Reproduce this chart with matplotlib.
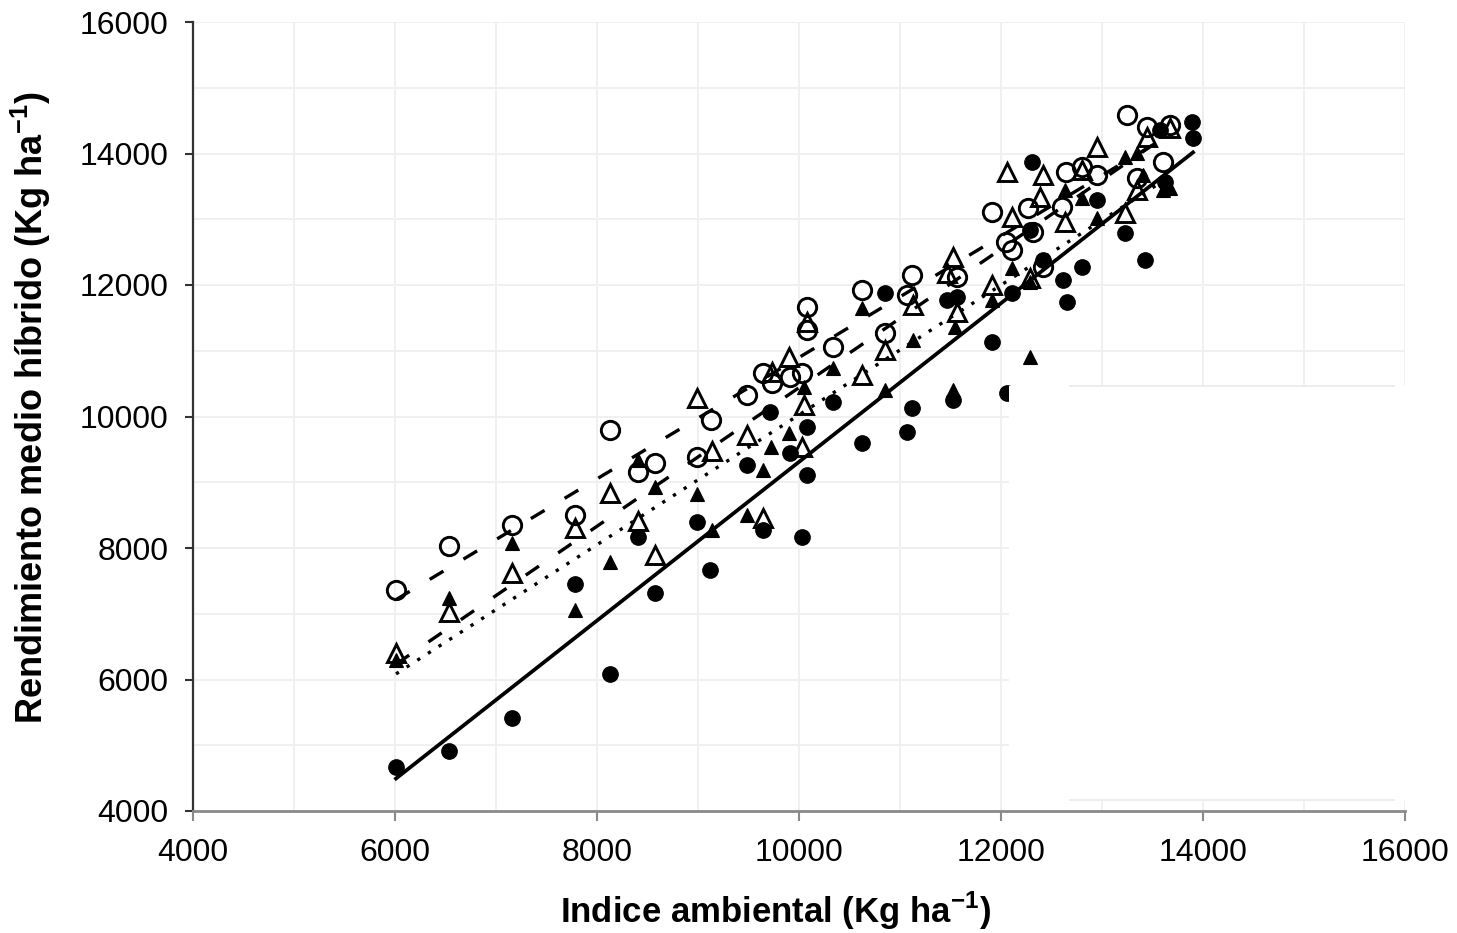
import numpy as np
import matplotlib
matplotlib.use("Agg")
import matplotlib.pyplot as plt
from matplotlib.patches import Rectangle

plt.rcParams['font.family'] = ['Liberation Sans', 'DejaVu Sans']
plt.rcParams['mathtext.fontset'] = 'custom'
plt.rcParams['mathtext.rm'] = 'Liberation Sans'
plt.rcParams['mathtext.bf'] = 'Liberation Sans:bold'

# Environmental index (x) and mean hybrid yield (y), kg/ha, for four hybrids
hyb_a_x = [6010, 6535, 7158, 7782, 8129, 8406, 8574, 8990, 9129, 9485, 9644, 9733,
           9911, 10030, 10079, 10079, 10337, 10624, 10851, 11069, 11119, 11564, 11911,
           12050, 12109, 12267, 12317, 12416, 12604, 12643, 12802, 12950, 13248, 13347,
           13446, 13604, 13673]
hyb_a_y = [7360, 8030, 8350, 8500, 9800, 9160, 9290, 9380, 9950, 10330, 10660, 10510,
           10600, 10660, 11670, 11320, 11060, 11920, 11270, 11850, 12150, 12120, 13110,
           12650, 12530, 13170, 12810, 12270, 13190, 13720, 13800, 13670, 14590, 13630,
           14400, 13870, 14430]

hyb_b_x = [6010, 6535, 7158, 7782, 8129, 8406, 8574, 8990, 9139, 9485, 9644, 9733,
           9901, 10030, 10050, 10079, 10624, 10851, 11129, 11465, 11525, 11564, 11911,
           12059, 12109, 12287, 12386, 12416, 12633, 12802, 12950, 13228, 13347, 13446,
           13673]
hyb_b_y = [6400, 7030, 7620, 8300, 8840, 8410, 7890, 10280, 9480, 9720, 8460, 10680,
           10900, 9540, 10180, 11440, 10630, 11010, 11700, 12180, 12430, 11590, 12000,
           13720, 13040, 12110, 13340, 13670, 12960, 13750, 14100, 13100, 13450, 14250,
           14390]

hyb_c_x = [6010, 6535, 7158, 7782, 8129, 8406, 8574, 8990, 9139, 9485, 9644, 9723,
           9901, 10050, 10337, 10624, 10851, 11129, 11525, 11545, 11911, 12109, 12287,
           12287, 12633, 12802, 12950, 13228, 13347, 13406, 13604, 13673]
hyb_c_y = [6300, 7240, 8080, 7060, 7790, 9340, 8930, 8820, 8270, 8500, 9190, 9540,
           9750, 10450, 10740, 11650, 10400, 11160, 10400, 11360, 11770, 12260, 10900,
           12050, 13450, 13320, 13020, 13950, 14010, 13670, 13450, 13480]

hyb_d_x = [6010, 6535, 7158, 7782, 8129, 8406, 8574, 8990, 9119, 9485, 9644, 9713,
           9911, 10030, 10079, 10079, 10337, 10624, 10851, 11069, 11119, 11465, 11525,
           11564, 11911, 12059, 12109, 12287, 12307, 12416, 12614, 12653, 12802, 12950,
           13228, 13426, 13574, 13624, 13891, 13901]
hyb_d_y = [4670, 4910, 5410, 7450, 6080, 8170, 7320, 8400, 7670, 9260, 8270, 10070,
           9450, 8170, 9840, 9110, 10220, 9600, 11880, 9770, 10130, 11770, 10250,
           11820, 11130, 10360, 11880, 12840, 13870, 12380, 12080, 11740, 12270, 13290,
           12790, 12380, 14360, 13570, 14480, 14240]

axis_ticks = [4000, 6000, 8000, 10000, 12000, 14000, 16000]
x_label = r'Indice ambiental (Kg ha$^{\mathbf{-1}}$)'
y_label = r'Rendimiento medio híbrido (Kg ha$^{\mathbf{-1}}$)'

fig = plt.figure(figsize=(14.57, 9.33), dpi=100)
ax = fig.add_axes([193 / 1457, 1 - 811 / 933, 1212 / 1457, 789 / 933])

ax.set_xlim(4000, 16000)
ax.set_ylim(4000, 16000)
ax.set_xticks(axis_ticks)
ax.set_yticks(axis_ticks)
ax.set_xticks(np.arange(5000, 16000, 2000), minor=True)
ax.set_yticks(np.arange(5000, 16000, 2000), minor=True)
ax.set_xticklabels([str(t) for t in axis_ticks])
ax.set_yticklabels([str(t) for t in axis_ticks])

ax.grid(True, which='both', color='#efefef', linewidth=1.3, zorder=0)
ax.set_axisbelow(True)

for side in ('top', 'right'):
    ax.spines[side].set_visible(False)
ax.spines['left'].set_color('#333333')
ax.spines['left'].set_linewidth(1.6)
ax.spines['bottom'].set_color('#8a8a8a')
ax.spines['bottom'].set_linewidth(2.0)

ax.tick_params(axis='x', which='major', direction='out', length=7.5, width=1.5,
               color='#8a8a8a', labelsize=23, pad=12, labelcolor='black')
ax.tick_params(axis='y', which='major', direction='out', length=5.5, width=1.5,
               color='#333333', labelsize=23, pad=12, labelcolor='black')
ax.tick_params(which='minor', length=0)

# Markers for each hybrid
ax.plot(hyb_c_x, hyb_c_y, linestyle='none', marker='^', ms=10.5, mfc='black',
        mec='black', mew=0.8, zorder=3)
ax.plot(hyb_a_x, hyb_a_y, linestyle='none', marker='o', ms=13.2, mfc='none',
        mec='black', mew=2.1, zorder=3)
ax.plot(hyb_b_x, hyb_b_y, linestyle='none', marker='^', ms=12.8, mfc='none',
        mec='black', mew=2.1, zorder=3)
ax.plot(hyb_d_x, hyb_d_y, linestyle='none', marker='o', ms=11.2, mfc='black',
        mec='black', mew=0.8, zorder=3)

# Linear trend for each hybrid across its own range of the index
def trend(xs, ys, **kw):
    xs = np.asarray(xs, float)
    ys = np.asarray(ys, float)
    slope, icpt = np.polyfit(xs, ys, 1)
    xx = np.array([xs.min(), xs.max()])
    ax.plot(xx, icpt + slope * xx, color='black', zorder=4, **kw)

trend(hyb_a_x, hyb_a_y, linewidth=2.4, linestyle=(0, (4.8, 7.0)))
trend(hyb_b_x, hyb_b_y, linewidth=2.4, linestyle=(0, (4.8, 7.0)))
trend(hyb_c_x, hyb_c_y, linewidth=2.4, linestyle=(0, (1.0, 2.8)))
trend(hyb_d_x, hyb_d_y, linewidth=2.7, linestyle='-')

# Blank panel in the lower-right corner of the plotting area
ax.add_patch(Rectangle((12079, 4167), 16040 - 12079, 10464 - 4167,
                       facecolor='white', edgecolor='none', zorder=5, clip_on=False))
ax.plot([12683, 15891], [10464, 10464], color='#ececec', lw=1.3, zorder=6)
ax.plot([12683, 15891], [4167, 4167], color='#ececec', lw=1.3, zorder=6)

fig.text(775 / 1457, 1 - 911 / 933, x_label, ha='center', va='center',
         fontsize=25, fontweight='bold')
fig.text(31 / 1457, 1 - 408 / 933, y_label, ha='center', va='center',
         rotation=90, fontsize=26, fontweight='bold')

fig.savefig('out.png', dpi=100, facecolor='white')
